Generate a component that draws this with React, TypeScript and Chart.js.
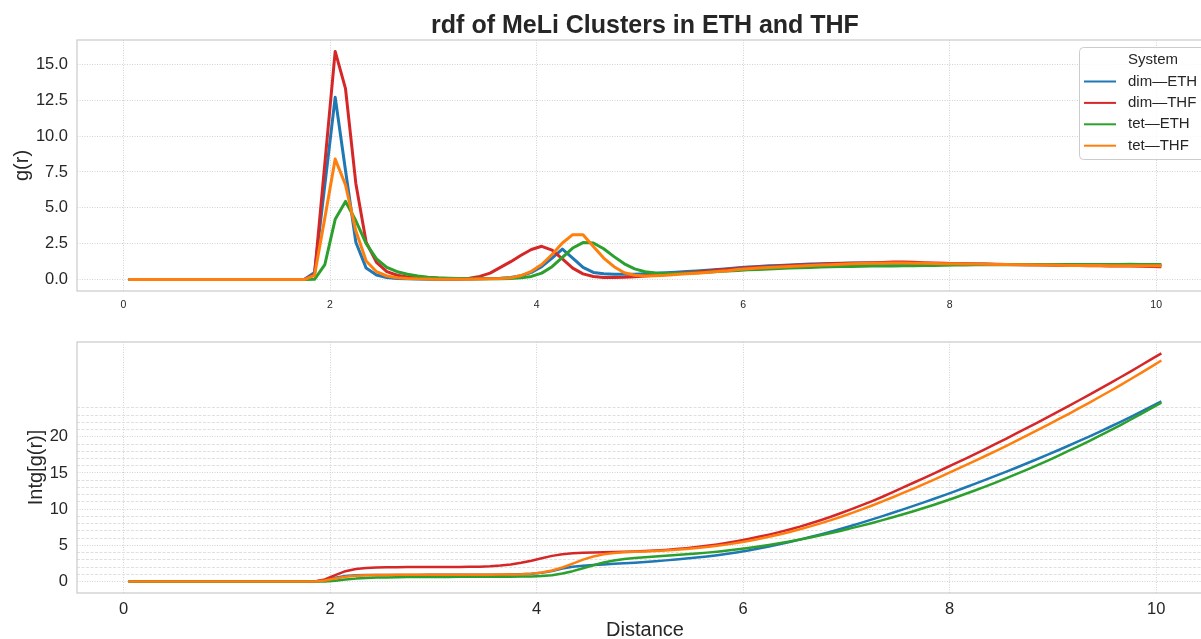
import React, { useEffect, useRef } from "react";
import { Chart, registerables } from "chart.js";

Chart.register(...registerables);

const FONT = '"Liberation Sans", Arial, Helvetica, sans-serif';
const TEXT = "#262626";

const chartTitle = "rdf of MeLi Clusters in ETH and THF";
const legendTitle = "System";
const seriesNames = ["dim—ETH", "dim—THF", "tet—ETH", "tet—THF"];
const seriesColors = ["#1f77b4", "#d62728", "#2ca02c", "#ff7f0e"];

const distance = [
  0.05, 0.15, 0.25, 0.35, 0.45, 0.55, 0.65, 0.75, 0.85, 0.95,
  1.05, 1.15, 1.25, 1.35, 1.45, 1.55, 1.65, 1.75, 1.85, 1.95,
  2.05, 2.15, 2.25, 2.35, 2.45, 2.55, 2.65, 2.75, 2.85, 2.95,
  3.05, 3.15, 3.25, 3.35, 3.45, 3.55, 3.65, 3.75, 3.85, 3.95,
  4.05, 4.15, 4.25, 4.35, 4.45, 4.55, 4.65, 4.75, 4.85, 4.95,
  5.05, 5.15, 5.25, 5.35, 5.45, 5.55, 5.65, 5.75, 5.85, 5.95,
  6.05, 6.15, 6.25, 6.35, 6.45, 6.55, 6.65, 6.75, 6.85, 6.95,
  7.05, 7.15, 7.25, 7.35, 7.45, 7.55, 7.65, 7.75, 7.85, 7.95,
  8.05, 8.15, 8.25, 8.35, 8.45, 8.55, 8.65, 8.75, 8.85, 8.95,
  9.05, 9.15, 9.25, 9.35, 9.45, 9.55, 9.65, 9.75, 9.85, 9.95,
  10.05,
];

// g(r)
const gDimETH = [
  0, 0, 0, 0, 0, 0, 0, 0, 0, 0, 0, 0, 0, 0, 0, 0, 0, 0,
  0.5, 6.6, 12.7, 7.6, 2.6, 0.8, 0.32, 0.15, 0.08, 0.05,
  0.04, 0.03, 0.03, 0.03, 0.03, 0.04, 0.05, 0.07,
  0.1, 0.15, 0.27, 0.5, 0.9, 1.5, 2.12, 1.5, 0.85,
  0.5, 0.4, 0.37, 0.37, 0.38, 0.4,
  0.44, 0.48, 0.52, 0.56, 0.6, 0.65, 0.7, 0.76, 0.82, 0.87,
  0.92, 0.96, 0.99, 1.02, 1.05, 1.08, 1.1, 1.12, 1.14, 1.16,
  1.16, 1.15, 1.14, 1.14, 1.13, 1.12, 1.12, 1.11, 1.11, 1.1,
  1.09, 1.08, 1.07, 1.06, 1.05, 1.04, 1.04, 1.03, 1.03, 1.02,
  1.02, 1.01, 1.01, 1.0, 1.0, 1.0, 1.0, 1.01, 1.01, 1.0,
];
const gDimTHF = [
  0, 0, 0, 0, 0, 0, 0, 0, 0, 0, 0, 0, 0, 0, 0, 0, 0, 0,
  0.35, 8.1, 15.9, 13.3, 6.7, 2.6, 1.2, 0.55, 0.3, 0.18,
  0.12, 0.08, 0.06, 0.05, 0.06, 0.1, 0.22, 0.45,
  0.85, 1.25, 1.7, 2.1, 2.32, 2.05, 1.45, 0.8, 0.4,
  0.22, 0.15, 0.14, 0.16, 0.2, 0.25,
  0.3, 0.36, 0.42, 0.48, 0.55, 0.6, 0.66, 0.72, 0.78, 0.82,
  0.87, 0.9, 0.94, 0.98, 1.01, 1.04, 1.07, 1.1, 1.12, 1.14,
  1.16, 1.17, 1.19, 1.22, 1.23, 1.2, 1.17, 1.15, 1.13, 1.11,
  1.1, 1.09, 1.08, 1.07, 1.06, 1.05, 1.04, 1.03, 1.02, 1.0,
  0.99, 0.98, 0.97, 0.96, 0.95, 0.95, 0.94, 0.93, 0.92, 0.9,
];
const gTetETH = [
  0, 0, 0, 0, 0, 0, 0, 0, 0, 0, 0, 0, 0, 0, 0, 0, 0, 0,
  0.02, 1.05, 4.2, 5.45, 4.1, 2.5, 1.45, 0.85, 0.55, 0.37,
  0.25, 0.17, 0.12, 0.09, 0.07, 0.06, 0.05, 0.05,
  0.06, 0.08, 0.12, 0.22, 0.45, 0.9, 1.55, 2.2, 2.58,
  2.55, 2.15, 1.6, 1.1, 0.75, 0.55,
  0.46, 0.43, 0.43, 0.45, 0.48, 0.52, 0.56, 0.6, 0.64, 0.68,
  0.71, 0.74, 0.77, 0.8, 0.82, 0.85, 0.87, 0.89, 0.91, 0.92,
  0.93, 0.94, 0.95, 0.95, 0.96, 0.97, 0.98, 0.99, 1.0, 1.01,
  1.02, 1.03, 1.03, 1.04, 1.04, 1.05, 1.05, 1.05, 1.05, 1.06,
  1.06, 1.06, 1.06, 1.06, 1.06, 1.06, 1.07, 1.06, 1.06, 1.05,
];
const gTetTHF = [
  0, 0, 0, 0, 0, 0, 0, 0, 0, 0, 0, 0, 0, 0, 0, 0, 0, 0,
  0.3, 4.3, 8.4, 6.6, 3.4, 1.3, 0.55, 0.25, 0.13, 0.08,
  0.05, 0.04, 0.03, 0.03, 0.03, 0.03, 0.04, 0.05,
  0.07, 0.12, 0.28, 0.58, 1.05, 1.75, 2.55, 3.13, 3.13,
  2.3, 1.5, 0.9, 0.48, 0.3, 0.25,
  0.27, 0.3, 0.35, 0.4, 0.45, 0.5, 0.56, 0.62, 0.7, 0.76,
  0.8, 0.84, 0.88, 0.92, 0.95, 0.98, 1.01, 1.04, 1.07, 1.1,
  1.12, 1.13, 1.14, 1.15, 1.15, 1.14, 1.13, 1.12, 1.11, 1.1,
  1.09, 1.08, 1.07, 1.06, 1.05, 1.04, 1.03, 1.02, 1.01, 1.0,
  0.99, 0.99, 0.98, 0.98, 0.97, 0.97, 0.97, 0.97, 0.96, 0.96,
];

// Intg[g(r)]
const intDimETH = [
  0, 0, 0, 0, 0, 0, 0, 0, 0, 0, 0, 0, 0, 0, 0, 0, 0, 0,
  0.01, 0.18, 0.54, 0.78, 0.87, 0.9, 0.91, 0.92, 0.92, 0.92,
  0.92, 0.93, 0.93, 0.93, 0.93, 0.94, 0.94, 0.95,
  0.96, 0.98, 1.02, 1.09, 1.22, 1.45, 1.8, 2.05, 2.2,
  2.3, 2.37, 2.45, 2.53, 2.61, 2.7,
  2.81, 2.93, 3.06, 3.19, 3.32, 3.48, 3.65, 3.85, 4.06, 4.3,
  4.56, 4.84, 5.14, 5.46, 5.8, 6.15, 6.51, 6.9, 7.3, 7.72,
  8.15, 8.59, 9.04, 9.5, 9.97, 10.45, 10.94, 11.44, 11.95, 12.47,
  13.0, 13.54, 14.08, 14.63, 15.19, 15.76, 16.34, 16.93, 17.53, 18.14,
  18.76, 19.39, 20.03, 20.68, 21.35, 22.03, 22.72, 23.43, 24.16, 24.9,
];
const intDimTHF = [
  0, 0, 0, 0, 0, 0, 0, 0, 0, 0, 0, 0, 0, 0, 0, 0, 0, 0,
  0.01, 0.29, 0.89, 1.44, 1.74, 1.87, 1.94, 1.97, 1.99, 2.0,
  2.01, 2.02, 2.02, 2.03, 2.03, 2.04, 2.06, 2.11,
  2.21, 2.37, 2.6, 2.89, 3.23, 3.55, 3.78, 3.92, 3.99,
  4.03, 4.06, 4.09, 4.12, 4.17, 4.22,
  4.29, 4.38, 4.49, 4.62, 4.77, 4.94, 5.14, 5.36, 5.61, 5.88,
  6.18, 6.49, 6.83, 7.2, 7.59, 8.02, 8.48, 8.96, 9.47, 10.0,
  10.55, 11.12, 11.72, 12.35, 13.0, 13.65, 14.3, 14.96, 15.62, 16.28,
  16.96, 17.64, 18.34, 19.05, 19.76, 20.49, 21.22, 21.96, 22.72, 23.47,
  24.23, 25.01, 25.79, 26.58, 27.37, 28.19, 29.01, 29.84, 30.68, 31.51,
];
const intTetETH = [
  0, 0, 0, 0, 0, 0, 0, 0, 0, 0, 0, 0, 0, 0, 0, 0, 0, 0,
  0.0, 0.02, 0.13, 0.28, 0.41, 0.49, 0.55, 0.58, 0.6, 0.62,
  0.63, 0.64, 0.65, 0.65, 0.66, 0.66, 0.67, 0.67,
  0.68, 0.68, 0.69, 0.71, 0.77, 0.89, 1.11, 1.44, 1.84,
  2.26, 2.63, 2.91, 3.12, 3.26, 3.37,
  3.47, 3.56, 3.66, 3.76, 3.87, 4.0, 4.13, 4.29, 4.46, 4.65,
  4.85, 5.06, 5.3, 5.55, 5.81, 6.09, 6.39, 6.7, 7.03, 7.38,
  7.73, 8.1, 8.49, 8.88, 9.29, 9.72, 10.16, 10.62, 11.09, 11.58,
  12.09, 12.61, 13.15, 13.71, 14.28, 14.87, 15.47, 16.09, 16.72, 17.37,
  18.04, 18.72, 19.41, 20.12, 20.85, 21.59, 22.35, 23.12, 23.91, 24.7,
];
const intTetTHF = [
  0, 0, 0, 0, 0, 0, 0, 0, 0, 0, 0, 0, 0, 0, 0, 0, 0, 0,
  0.01, 0.14, 0.43, 0.68, 0.82, 0.88, 0.91, 0.92, 0.93, 0.93,
  0.94, 0.94, 0.94, 0.95, 0.95, 0.95, 0.95, 0.96,
  0.97, 0.98, 1.02, 1.1, 1.26, 1.53, 1.95, 2.48, 3.04,
  3.47, 3.76, 3.94, 4.04, 4.11, 4.17,
  4.24, 4.31, 4.4, 4.51, 4.63, 4.78, 4.95, 5.14, 5.37, 5.62,
  5.89, 6.19, 6.51, 6.86, 7.23, 7.62, 8.04, 8.49, 8.95, 9.45,
  9.97, 10.51, 11.07, 11.65, 12.24, 12.85, 13.47, 14.09, 14.73, 15.38,
  16.04, 16.7, 17.38, 18.07, 18.76, 19.47, 20.19, 20.91, 21.65, 22.39,
  23.14, 23.91, 24.69, 25.49, 26.29, 27.11, 27.95, 28.8, 29.66, 30.54,
];

const xTicks = [0, 2, 4, 6, 8, 10];
const gTicks = [0, 2.5, 5, 7.5, 10, 12.5, 15];
const intGridValues = [0, 1, 2, 3, 4, 5, 6, 7, 8, 9, 10, 11, 12, 13, 14, 15, 16, 17, 18, 19, 20, 21, 22, 23, 24];
const intLabelValues = [0, 5, 10, 15, 20];

const gSeries = [gDimETH, gDimTHF, gTetETH, gTetTHF];
const intSeries = [intDimETH, intDimTHF, intTetETH, intTetTHF];

const DOT = "#d2d2d2";
const DASH = "#e0e0e0";

const framePlugin = {
  id: "frame",
  afterDatasetsDraw(chart: any) {
    const { ctx, chartArea: a } = chart;
    ctx.save();
    ctx.strokeStyle = "#cccccc";
    ctx.lineWidth = 1.25;
    ctx.strokeRect(a.left, a.top, a.right - a.left, a.bottom - a.top);
    ctx.restore();
  },
};

const legendPlugin = {
  id: "systemLegend",
  afterDraw(chart: any) {
    const ctx = chart.ctx;
    const x0 = 1079.5, y0 = 47.5, w = 140, h = 112, r = 4;
    ctx.save();
    ctx.beginPath();
    ctx.moveTo(x0 + r, y0);
    ctx.lineTo(x0 + w - r, y0);
    ctx.arcTo(x0 + w, y0, x0 + w, y0 + r, r);
    ctx.lineTo(x0 + w, y0 + h - r);
    ctx.arcTo(x0 + w, y0 + h, x0 + w - r, y0 + h, r);
    ctx.lineTo(x0 + r, y0 + h);
    ctx.arcTo(x0, y0 + h, x0, y0 + h - r, r);
    ctx.lineTo(x0, y0 + r);
    ctx.arcTo(x0, y0, x0 + r, y0, r);
    ctx.closePath();
    ctx.fillStyle = "rgba(255,255,255,0.85)";
    ctx.fill();
    ctx.strokeStyle = "#cccccc";
    ctx.lineWidth = 1;
    ctx.stroke();
    ctx.font = `15px ${FONT}`;
    ctx.fillStyle = TEXT;
    ctx.textBaseline = "middle";
    ctx.textAlign = "left";
    ctx.fillText(legendTitle, 1128, 60);
    chart.data.datasets.forEach((ds: any, i: number) => {
      const y = 81.5 + i * 21.4;
      ctx.strokeStyle = ds.borderColor;
      ctx.lineWidth = 2;
      ctx.beginPath();
      ctx.moveTo(1084, y);
      ctx.lineTo(1116, y);
      ctx.stroke();
      ctx.fillStyle = TEXT;
      ctx.fillText(ds.label, 1128, y);
    });
    ctx.restore();
  },
};

function makeDatasets(series: number[][], width: number) {
  return series.map((vals, i) => ({
    label: seriesNames[i],
    data: distance.map((x, k) => ({ x, y: vals[k] })),
    borderColor: seriesColors[i],
    backgroundColor: seriesColors[i],
    borderWidth: width,
    pointRadius: 0,
    tension: 0,
    fill: false,
    borderJoinStyle: "round",
    order: 4 - i,
  }));
}

export default function App() {
  const topRef = useRef<HTMLCanvasElement>(null);
  const botRef = useRef<HTMLCanvasElement>(null);

  useEffect(() => {
    Chart.defaults.font.family = FONT;
    Chart.defaults.color = TEXT;

    const top = new Chart(topRef.current as HTMLCanvasElement, {
      type: "line",
      data: { datasets: makeDatasets(gSeries, 3) as any },
      options: {
        animation: false,
        responsive: false,
        maintainAspectRatio: false,
        events: [],
        layout: { padding: { left: 0, right: 7, top: 0, bottom: 0 } },
        plugins: {
          legend: { display: false },
          tooltip: { enabled: false },
          title: {
            display: true,
            text: chartTitle,
            fullSize: false,
            color: TEXT,
            font: { family: FONT, size: 25, weight: "bold", lineHeight: 1 },
            padding: { top: 13.5, bottom: 1.5 },
          },
        },
        scales: {
          x: {
            type: "linear",
            min: -0.45,
            max: 10.55,
            afterBuildTicks: (s: any) => {
              s.ticks = xTicks.map((v) => ({ value: v }));
            },
            afterFit: (s: any) => {
              s.height = 29;
            },
            grid: { color: DOT, lineWidth: 1, drawTicks: false },
            border: { display: false, dash: [1, 1.5] },
            ticks: {
              autoSkip: false,
              maxRotation: 0,
              padding: 8,
              color: TEXT,
              font: { family: FONT, size: 10.5 },
              callback: (v: any) => String(v),
            },
          },
          y: {
            type: "linear",
            min: -0.795,
            max: 16.695,
            afterBuildTicks: (s: any) => {
              s.ticks = gTicks.map((v) => ({ value: v }));
            },
            afterFit: (s: any) => {
              s.width = 77;
            },
            grid: { color: DOT, lineWidth: 1, drawTicks: false },
            border: { display: false, dash: [1, 1.5] },
            ticks: {
              autoSkip: false,
              padding: 9,
              color: TEXT,
              font: { family: FONT, size: 16.5 },
              callback: (v: any) => Number(v).toFixed(1),
            },
            title: {
              display: true,
              text: "g(r)",
              color: TEXT,
              font: { family: FONT, size: 20 },
              padding: { top: 10, bottom: 0 },
            },
          },
        },
      } as any,
      plugins: [framePlugin, legendPlugin],
    });

    const bot = new Chart(botRef.current as HTMLCanvasElement, {
      type: "line",
      data: { datasets: makeDatasets(intSeries, 2.5) as any },
      options: {
        animation: false,
        responsive: false,
        maintainAspectRatio: false,
        events: [],
        layout: { padding: { left: 0, right: 7, top: 22, bottom: 0 } },
        plugins: {
          legend: { display: false },
          tooltip: { enabled: false },
          title: { display: false },
        },
        scales: {
          x: {
            type: "linear",
            min: -0.45,
            max: 10.55,
            afterBuildTicks: (s: any) => {
              s.ticks = xTicks.map((v) => ({ value: v }));
            },
            afterFit: (s: any) => {
              s.height = 46;
            },
            grid: { color: DOT, lineWidth: 1, drawTicks: false },
            border: { display: false, dash: [1, 1.5] },
            ticks: {
              autoSkip: false,
              maxRotation: 0,
              padding: 7,
              color: TEXT,
              font: { family: FONT, size: 16.5 },
              callback: (v: any) => String(v),
            },
            title: {
              display: true,
              text: "Distance",
              color: TEXT,
              font: { family: FONT, size: 20, lineHeight: 0.9 },
              padding: { top: 0, bottom: 0 },
            },
          },
          y: {
            type: "linear",
            min: -1.576,
            max: 33.09,
            afterBuildTicks: (s: any) => {
              s.ticks = intGridValues.map((v) => ({ value: v }));
            },
            afterFit: (s: any) => {
              s.width = 77;
            },
            grid: {
              lineWidth: 1,
              drawTicks: false,
              color: (c: any) => (intLabelValues.includes(c.tick?.value) ? DOT : DASH),
            },
            border: {
              display: false,
              dash: (c: any) => (intLabelValues.includes(c.tick?.value) ? [1, 1.5] : [3, 1.5]),
            },
            ticks: {
              autoSkip: false,
              padding: 9,
              color: TEXT,
              font: { family: FONT, size: 16.5 },
              callback: (v: any) => (intLabelValues.includes(Number(v)) ? String(v) : ""),
            },
            title: {
              display: true,
              text: "Intg[g(r)]",
              color: TEXT,
              font: { family: FONT, size: 20 },
              padding: { top: 24, bottom: 0 },
            },
          },
        },
      } as any,
      plugins: [framePlugin],
    });

    return () => {
      top.destroy();
      bot.destroy();
    };
  }, []);

  return (
    <div
      style={{
        position: "fixed",
        left: 0,
        top: 0,
        width: 1201,
        height: 639,
        overflow: "hidden",
        background: "#ffffff",
      }}
    >
      <canvas ref={topRef} width={1220} height={320} style={{ position: "absolute", left: 0, top: 0 }} />
      <canvas ref={botRef} width={1220} height={319} style={{ position: "absolute", left: 0, top: 320 }} />
    </div>
  );
}
